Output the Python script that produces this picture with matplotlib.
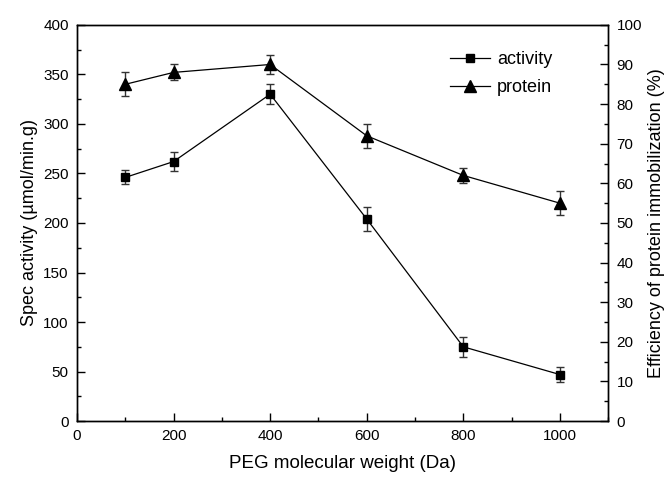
import matplotlib
matplotlib.use("Agg")
import matplotlib.pyplot as plt
from matplotlib.lines import Line2D
from matplotlib.ticker import MultipleLocator

plt.rcParams["font.family"] = ["Liberation Sans", "DejaVu Sans"]

peg_mw = [100, 200, 400, 600, 800, 1000]
activity = [246, 262, 330, 204, 75, 47]
activity_err = [7, 10, 10, 12, 10, 8]
protein = [85, 88, 90, 72, 62, 55]
protein_err = [3, 2, 2.5, 3, 2, 3]

fig = plt.figure(figsize=(6.72, 4.78), dpi=100)
ax = fig.add_axes([0.1146, 0.119, 0.7904, 0.829])
ax2 = ax.twinx()

ax.errorbar(peg_mw, activity, yerr=activity_err, color="black", marker="s",
            markersize=6, linewidth=0.9, elinewidth=1.0, capsize=3,
            ecolor="#333333")
ax2.errorbar(peg_mw, protein, yerr=protein_err, color="black", marker="^",
             markersize=8, linewidth=0.9, elinewidth=1.0, capsize=3,
             ecolor="#333333")

ax.set_xlim(0, 1100)
ax.set_ylim(0, 400)
ax2.set_ylim(0, 100)
ax.xaxis.set_major_locator(MultipleLocator(200))
ax.xaxis.set_minor_locator(MultipleLocator(100))
ax.yaxis.set_major_locator(MultipleLocator(50))
ax.yaxis.set_minor_locator(MultipleLocator(25))
ax2.yaxis.set_major_locator(MultipleLocator(10))
ax2.yaxis.set_minor_locator(MultipleLocator(5))

for a in (ax, ax2):
    a.tick_params(which="major", direction="in", length=6, width=1.0, labelsize=11)
    a.tick_params(which="minor", direction="in", length=3, width=1.0)
    for s in a.spines.values():
        s.set_linewidth(1.0)
ax.tick_params(axis="both", pad=6)
ax2.tick_params(axis="y", pad=6)

ax.set_xlabel("PEG molecular weight (Da)", fontsize=13.5, labelpad=8)
ax.set_ylabel("Spec activity (µmol/min.g)", fontsize=13)
ax2.set_ylabel("Efficiency of protein immobilization (%)", fontsize=13)

handles = [
    Line2D([], [], color="black", marker="s", markersize=6, linewidth=0.9,
           label="activity"),
    Line2D([], [], color="black", marker="^", markersize=8, linewidth=0.9,
           label="protein"),
]
ax.legend(handles=handles, loc="upper right", bbox_to_anchor=(0.925, 0.975),
          frameon=False, fontsize=13, handlelength=2.2, handletextpad=0.4,
          labelspacing=0.6)

fig.savefig("out.png", dpi=100)
